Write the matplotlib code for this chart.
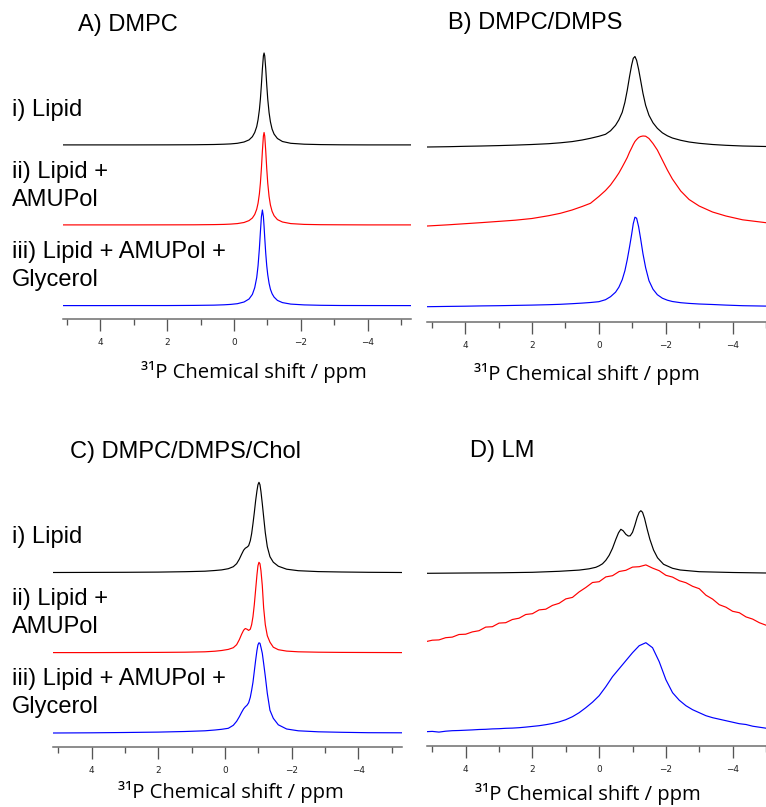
import matplotlib
matplotlib.use('Agg')
import matplotlib.pyplot as plt

# figure size in pixels
W, H = 766, 807

# ---- data: 31P spectra (heights above each trace's baseline) ----
# panel A  DMPC
A_ppm = [5.15, 4, 3, 2, 1.2, 0.6, 0.3, 0.1, -0.1, -0.3, -0.45, -0.55, -0.62, -0.68, -0.72, -0.76,
         -0.79, -0.82, -0.85, -0.88, -0.9, -0.92, -0.95, -0.98, -1.01, -1.05, -1.09, -1.14, -1.2,
         -1.3, -1.45, -1.7, -2.1, -2.6, -3.2, -4, -5.3]
A_lipid = [0.1, 0.1, 0.1, 0.15, 0.25, 0.5, 0.8, 1.1, 1.7, 3.0, 5.1, 8.3, 12.5, 18.4, 25.3, 35.2,
           46, 60.2, 76.2, 89.1, 92, 89.1, 76.2, 60.2, 46, 32.4, 23.2, 15.9, 10.9,
           6.5, 3.5, 1.7, 0.8, 0.4, 0.2, 0.1, 0.1]
A_amupol = [0.1, 0.1, 0.1, 0.15, 0.2, 0.4, 0.6, 0.9, 1.4, 2.5, 4.4, 7, 10.5, 15.8, 21.8, 31.2,
            41.9, 56.4, 74, 88.9, 92.5, 88.9, 74, 56.4, 41.9, 28.5, 20, 13.7, 9.3,
            5.4, 3, 1.4, 0.6, 0.3, 0.2, 0.1, 0.1]
A_glycerol = [0.1, 0.1, 0.15, 0.15, 0.3, 0.55, 0.9, 1.3, 2.0, 3.7, 6.7, 11.3, 18, 28.2, 40, 57.3,
              73.7, 89, 95.7, 89, 79.3, 68, 52.4, 40, 31, 22.4, 16.5, 12, 8.6,
              5.3, 3.1, 1.6, 0.8, 0.4, 0.2, 0.15, 0.1]

# panel B  DMPC/DMPS
B_ppm = [5.13, 4.5, 4, 3.5, 3, 2.5, 2, 1.5, 1.15, 0.8, 0.5, 0.25, 0, -0.2, -0.35, -0.5, -0.6,
         -0.7, -0.78, -0.85, -0.92, -0.98, -1.03, -1.08, -1.13, -1.19, -1.25, -1.32, -1.4, -1.5,
         -1.62, -1.75, -1.9, -2.05, -2.2, -2.45, -2.7, -3.0, -3.4, -3.8, -4.3, -5.0]
B_lipid = [0.3, 0.6, 1, 1.3, 1.7, 2.2, 2.8, 3.6, 4.5, 5.7, 7.3, 9, 11, 13, 16.5, 22, 27.5,
           35, 45, 57, 71, 82, 89, 90.8, 87, 78, 67, 54, 42, 32,
           24.5, 19, 14.5, 11.5, 9.3, 7, 5.3, 4, 2.8, 2, 1.3, 0.8]
B_amupol = [0, 1.2, 2.3, 3.4, 4.6, 5.8, 7.5, 10.3, 12.7, 16, 19.5, 22.7, 29.5, 35.5, 41, 48, 53,
            59, 64, 68.5, 74, 78, 81.5, 84.5, 86.5, 88.5, 89.5, 90, 89.8, 87.5,
            82.5, 76, 66, 56, 47, 35, 26.5, 20, 14, 10, 6.2, 3.3]
B_glycerol = [0, 0.3, 0.5, 0.8, 1.0, 1.3, 1.6, 2.0, 2.4, 3.0, 3.6, 4.2, 5, 7, 10, 14.5, 19.5,
              27, 36, 47, 60, 72, 83, 89.5, 88.5, 80, 68, 53, 39, 26,
              17.5, 12, 8.5, 6.5, 5.2, 4, 3.3, 2.7, 2.2, 1.6, 1.0, 0.6]

# panel C  DMPC/DMPS/Chol
C_ppm = [5.15, 4, 3, 2, 1.2, 0.6, 0.3, 0.1, -0.1, -0.25, -0.35, -0.43, -0.5, -0.56, -0.61, -0.66,
         -0.71, -0.76, -0.8, -0.84, -0.88, -0.92, -0.96, -0.99, -1.02, -1.05, -1.08, -1.12, -1.16,
         -1.21, -1.27, -1.35, -1.45, -1.6, -1.85, -2.2, -2.8, -3.5, -4.3, -5.32]
C_lipid = [0.2, 0.3, 0.4, 0.6, 1.0, 1.5, 2.2, 2.8, 4, 6, 9, 13.5, 18.5, 22.5, 24.5, 25.5,
           27, 32, 39, 49, 60, 72, 82, 88, 90.4, 88, 81, 69, 56,
           40, 26, 16, 10.5, 6.5, 3.5, 2, 1.1, 0.7, 0.4, 0.2]
C_amupol = [0.1, 0.1, 0.2, 0.3, 0.5, 0.9, 1.5, 2.2, 3.3, 5, 8, 13, 18.5, 22.5, 24.2, 23.5,
            22.3, 23.5, 28, 36, 48, 63, 78, 87, 90.4, 89, 82, 67, 45,
            28, 17, 10.5, 5.5, 3, 1.6, 0.9, 0.5, 0.3, 0.2, 0.1]
C_glycerol = [0.3, 0.5, 0.8, 1.2, 1.8, 2.5, 3.3, 4, 5, 8, 12, 16.5, 21, 24.5, 26.5, 28,
              30.5, 36, 43, 51, 62, 73, 83, 88.5, 90.5, 90, 86, 80, 70,
              57, 40, 23, 15, 8.5, 4.3, 2.5, 1.5, 1, 0.6, 0.5]

# panel D  LM
D_lipid_ppm = [5.15, 4, 3, 2, 1.2, 0.6, 0.3, 0.1, 0.0, -0.1, -0.2, -0.3, -0.4, -0.5, -0.58,
               -0.65, -0.72, -0.8, -0.87, -0.93, -1.0, -1.07, -1.14, -1.2, -1.25, -1.3, -1.36,
               -1.44, -1.52, -1.63, -1.75, -1.93, -2.2, -2.43, -3, -4, -5]
D_lipid = [0, 0.3, 0.5, 1, 2, 3.2, 4.5, 6, 7.5, 9.5, 13, 18, 25, 34, 40.5,
           44, 42.5, 39, 37.3, 37.5, 41, 48, 56, 61, 62.6, 61, 55,
           44, 34, 23.3, 15.5, 9, 5, 3.3, 1.6, 0.8, 0.3]
D_ppm = [5.2, 5.0, 4.8, 4.6, 4.4, 4.2, 4.0, 3.8, 3.6, 3.4, 3.2, 3.0, 2.8, 2.6, 2.4, 2.2, 2.0,
         1.8, 1.6, 1.4, 1.2, 1.0, 0.8, 0.6, 0.4, 0.2, 0.0, -0.2, -0.4, -0.6, -0.8, -1.0, -1.2,
         -1.4, -1.6, -1.8, -2.0, -2.2, -2.4, -2.6, -2.8, -3.0, -3.2, -3.4, -3.6, -3.8, -4.0,
         -4.2, -4.4, -4.6, -4.8, -5.0]
D_amupol = [0, 1.5, 1.8, 4, 4.6, 7.2, 7.5, 9.8, 11, 14.6, 15, 18.6, 19, 22.2, 23.5, 27.2, 28,
            31.8, 32.5, 36.3, 38.4, 42.8, 44.3, 49.8, 54.2, 59.2, 60, 64.8, 66, 70.2, 71.4, 74.6, 75,
            76.8, 73.6, 71, 66.4, 64.6, 61, 59, 55.4, 53, 46.5, 42.6, 37, 34.5, 30.4,
            29, 24.8, 22.6, 19, 16.5]
D_glycerol = [0, 0.3, -0.4, 0.5, 1, 1.2, 1.5, 1.8, 2.2, 2.4, 2.8, 3, 3.4, 3.6, 4, 4.6, 5.3,
              6, 7, 8.2, 9.8, 12, 15, 19, 24, 29.5, 36, 45, 55, 63, 71, 79, 86,
              89, 84, 70, 52, 39, 31.5, 26, 22, 19, 16, 14, 12.5, 11, 9.5,
              8, 7.2, 5.5, 4.5, 3.5]

# ---- layout (pixels) ----
fig = plt.figure(figsize=(W / 100, H / 100), dpi=100)

TICKC = '#555555'


def panel(x0, x1, y_top, y_axis, xlim):
    ax = fig.add_axes([x0 / W, 1 - y_axis / H, (x1 - x0) / W, (y_axis - y_top) / H])
    ax.set_xlim(xlim)
    ax.set_ylim(0, y_axis - y_top)
    for s in ['top', 'left', 'right']:
        ax.spines[s].set_visible(False)
    ax.spines['bottom'].set_color('#6e6e6e')
    ax.spines['bottom'].set_linewidth(1.1)
    ax.set_yticks([])
    ax.set_xticks([4, 2, 0, -2, -4])
    ax.set_xticks([5, 3, 1, -1, -3, -5], minor=True)
    ax.tick_params(axis='x', which='major', length=8.6, width=0.95, color=TICKC,
                   labelsize=6.4, pad=5, labelcolor='#222222')
    ax.tick_params(axis='x', which='minor', length=4.3, width=0.95, color=TICKC)
    ax.patch.set_alpha(0)
    return ax


def traces(ax, sets):
    for ppm, vals, off, col in sets:
        ax.plot(ppm, [v + off for v in vals], color=col, lw=0.85, solid_joinstyle='round')


axA = panel(62.7, 411, 40, 319, (5.13, -5.3))
traces(axA, [(A_ppm, A_lipid, 174, 'black'),
             (A_ppm, A_amupol, 94, 'red'),
             (A_ppm, A_glycerol, 13.3, 'blue')])

axB = panel(427.3, 766, 40, 321.7, (5.13, -5.0))
traces(axB, [(B_ppm, B_lipid, 174.4, 'black'),
             (B_ppm, B_amupol, 95.7, 'red'),
             (B_ppm, B_glycerol, 15, 'blue')])

axC = panel(53.3, 402.3, 465, 746.7, (5.15, -5.32))
traces(axC, [(C_ppm, C_lipid, 174, 'black'),
             (C_ppm, C_amupol, 94, 'red'),
             (C_ppm, C_glycerol, 13.4, 'blue')])

axD = panel(427.3, 766, 465, 746, (5.15, -5.0))
traces(axD, [(D_lipid_ppm, D_lipid, 172.7, 'black'),
             (D_ppm, D_amupol, 104.3, 'red'),
             (D_ppm, D_glycerol, 14.3, 'blue')])

# ---- text ----
SANS = 'Liberation Sans'
LBL = 'Open Sans'


def txt(x, y, s, size=17, family=SANS, ha='left'):
    fig.text(x / W, 1 - y / H, s, fontsize=size, family=family, ha=ha, va='center')


txt(78, 25, 'A) DMPC')
txt(448, 23, 'B) DMPC/DMPS')
txt(70, 452, 'C) DMPC/DMPS/Chol')
txt(470, 451, 'D) LM')

for y0 in (0, 426.7):
    txt(12, 110 + y0, 'i) Lipid')
    txt(12, 172 + y0, 'ii) Lipid +')
    txt(12, 200 + y0, 'AMUPol')
    txt(12, 252 + y0, 'iii) Lipid + AMUPol +')
    txt(12, 280 + y0, 'Glycerol')

xlab = '\u00b3\u00b9P Chemical shift / ppm'
txt(254, 372, xlab, size=14.6, family=LBL, ha='center')
txt(587, 374, xlab, size=14.6, family=LBL, ha='center')
txt(231, 792, xlab, size=14.6, family=LBL, ha='center')
txt(588, 794, xlab, size=14.6, family=LBL, ha='center')

fig.savefig('out.png', dpi=100)
